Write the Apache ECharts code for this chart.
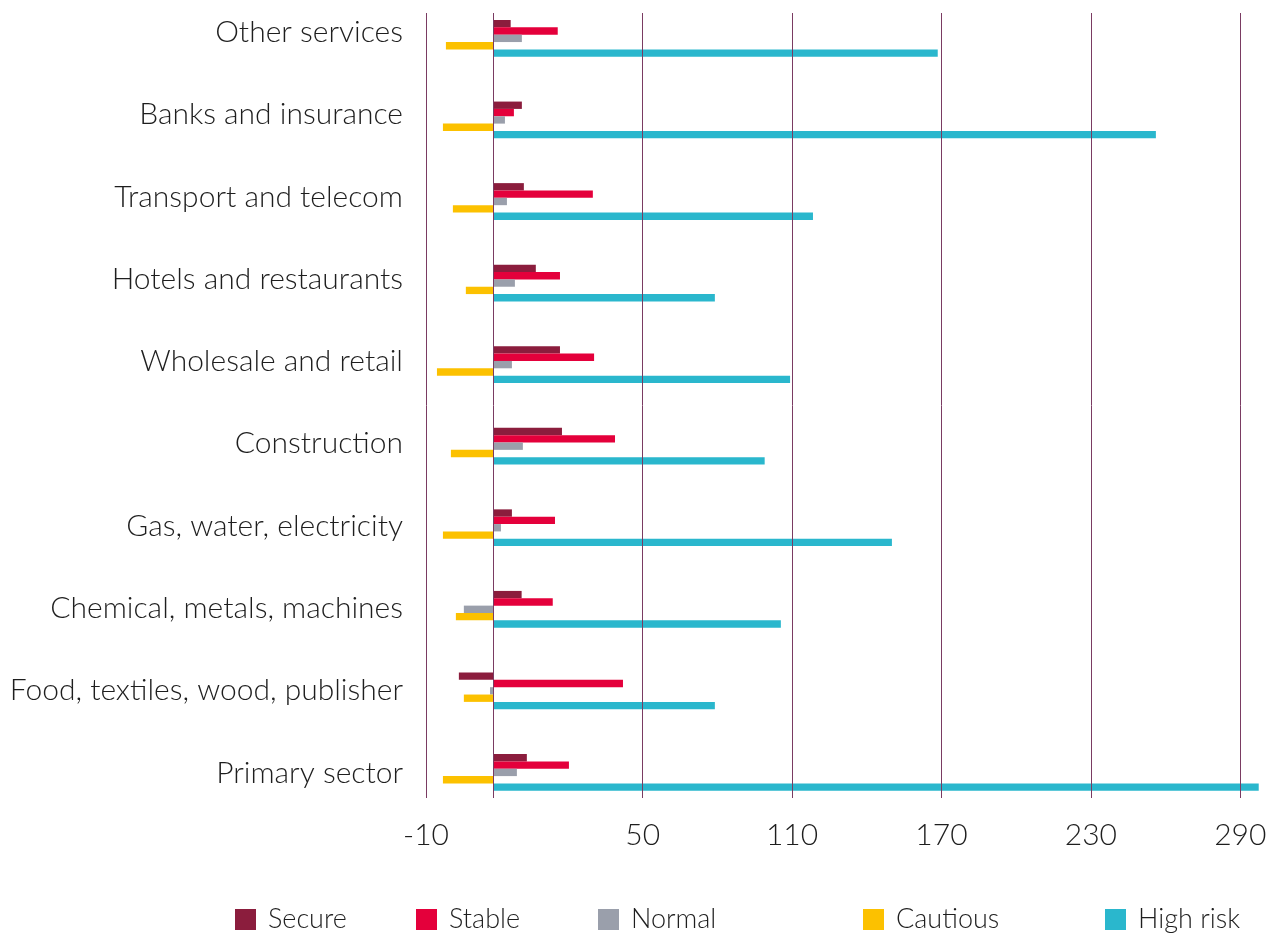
<!DOCTYPE html>
<html>
<head>
<meta charset="utf-8">
<title>Sector risk profile</title>
<script src="https://cdn.jsdelivr.net/npm/echarts@6/dist/echarts.min.js"></script>
<style>
  html, body { margin: 0; padding: 0; background: #ffffff; }
  #chart { width: 1275px; height: 933px; }
</style>
</head>
<body>
<div id="chart"></div>
<script>
// Sectors, listed top to bottom
const categories = [
  'Other services',
  'Banks and insurance',
  'Transport and telecom',
  'Hotels and restaurants',
  'Wholesale and retail',
  'Construction',
  'Gas, water, electricity',
  'Chemical, metals, machines',
  'Food, textiles, wood, publisher',
  'Primary sector'
];

// Values per risk class, same order as the sectors
const secure   = [7.0, 11.5, 12.3, 17.1, 26.8, 27.6, 7.5, 11.4, -13.8, 13.5];
const stable   = [25.9, 8.3, 40.0, 26.8, 40.5, 48.9, 24.8, 23.9, 52.1, 30.4];
const normal   = [11.5, 4.7, 5.5, 8.7, 7.5, 11.9, 3.1, -11.8, -1.3, 9.5];
const cautious = [-19.0, -20.2, -16.2, -11.0, -22.6, -17.0, -20.2, -15.0, -11.8, -20.2];
const highRisk = [178.5, 266.1, 128.4, 89.0, 119.2, 109.0, 160.1, 115.5, 89.0, 307.4];

// Value axis: range, grid lines and the printed tick labels
const axisMin = -27;
const axisMax = 310;
const gridLineValues = [-27, 0, 60, 120, 180, 240, 300];
const tickValues = [-27, 60, 120, 180, 240, 300];
const tickLabels = ['-10', '50', '110', '170', '230', '290'];

const seriesNames = ['Secure', 'Stable', 'Normal', 'Cautious', 'High risk'];
const seriesData = [secure, stable, normal, cautious, highRisk];
const seriesColors = ['#8b1d3d', '#e4003b', '#9a9fab', '#fcc100', '#2ab7cd'];
const legendLefts = [235, 416, 598, 863, 1105];

const FONT = 'Lato, "Noto Sans", sans-serif';
const TEXT = '#1e1e1e';
const LINE = '#7a3b62';

const chart = echarts.init(document.getElementById('chart'), null, { renderer: 'canvas' });

const common = { left: 426, right: 9.8, outerBoundsMode: 'none', containLabel: false };

const option = {
  animation: false,
  backgroundColor: '#ffffff',
  grid: [
    // bars
    Object.assign({ top: -2.4, height: 815.6 }, common),
    // grid lines and value labels
    Object.assign({ top: 13, height: 785 }, common),
    // sector labels
    Object.assign({ top: -8.85, height: 823 }, common)
  ],
  xAxis: [
    { gridIndex: 0, type: 'value', min: axisMin, max: axisMax, show: false },
    {
      gridIndex: 1, type: 'value', min: axisMin, max: axisMax, z: 5,
      axisLine: { show: false },
      axisTick: { show: false, customValues: gridLineValues },
      splitLine: { show: true, lineStyle: { color: LINE, width: 1 } },
      axisLabel: {
        customValues: tickValues,
        margin: 22,
        fontFamily: FONT, fontSize: 30, fontWeight: 300, color: TEXT,
        formatter: function (v) {
          const i = tickValues.indexOf(v);
          return i >= 0 ? tickLabels[i] : '';
        }
      }
    },
    { gridIndex: 2, type: 'value', min: axisMin, max: axisMax, show: false }
  ],
  yAxis: [
    { gridIndex: 0, type: 'category', inverse: true, data: categories, show: false },
    { gridIndex: 1, type: 'category', inverse: true, data: categories, show: false },
    {
      gridIndex: 2, type: 'category', inverse: true, data: categories,
      axisLine: { show: false },
      axisTick: { show: false },
      splitLine: { show: false },
      axisLabel: {
        margin: 23,
        fontFamily: FONT, fontSize: 30, fontWeight: 300, color: TEXT
      }
    }
  ],
  legend: seriesNames.map(function (name, i) {
    return {
      data: [name],
      left: legendLefts[i],
      top: 906,
      padding: 0,
      icon: 'rect',
      itemWidth: 21,
      itemHeight: 21,
      selectedMode: false,
      textStyle: {
        fontFamily: FONT, fontSize: 27, fontWeight: 300, color: TEXT,
        padding: [0, 0, 0, 7]
      }
    };
  }),
  series: seriesNames.map(function (name, i) {
    return {
      name: name,
      type: 'bar',
      xAxisIndex: 0,
      yAxisIndex: 0,
      data: seriesData[i],
      barWidth: 7.35,
      barGap: '0%',
      itemStyle: { color: seriesColors[i] },
      emphasis: { disabled: true }
    };
  })
};

chart.setOption(option);
</script>
</body>
</html>
